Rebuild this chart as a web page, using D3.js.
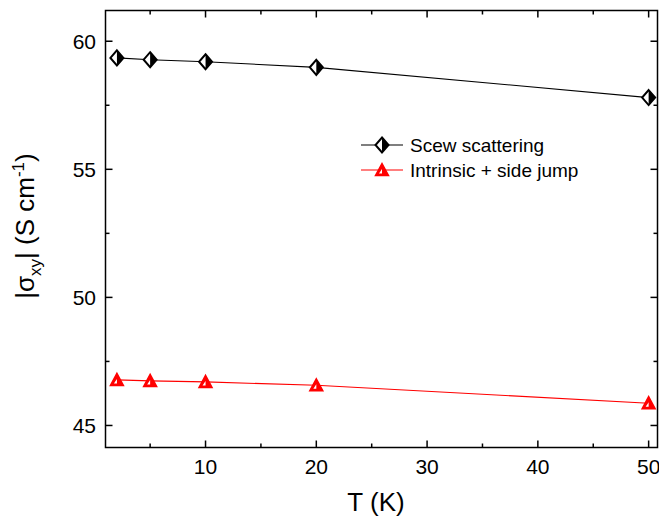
<!DOCTYPE html>
<html><head><meta charset="utf-8">
<script src="https://cdn.jsdelivr.net/npm/d3@7"></script>
<style>body{margin:0;background:#fff}svg{display:block;font-family:"Liberation Sans",Arial,sans-serif}</style>
</head><body>
<svg id="c" width="659" height="523"></svg>
<script>
const temps = [2, 5, 10, 20, 50];
const skew = [59.35, 59.28, 59.2, 58.98, 57.8];
const intrinsic = [46.78, 46.74, 46.7, 46.57, 45.87];
const xTicks = [10, 20, 30, 40, 50];
const yTicks = [45, 50, 55, 60];
const seriesNames = ["Scew scattering", "Intrinsic + side jump"];

const svg = d3.select("#c");
const L = 105.5, R = 657.5, T = 10.5, B = 447.5;
const x = d3.scaleLinear().domain([0.97, 50.8]).range([L, R]);
const y = d3.scaleLinear().domain([44.14, 61.2]).range([B, T]);

const g = svg.append("g");
g.append("rect").attr("x", L).attr("y", T).attr("width", R - L).attr("height", B - T)
  .attr("fill", "none").attr("stroke", "#000").attr("stroke-width", 1.5);

const xMinor = d3.range(5, 51, 5);
const yMinor = d3.range(45, 61.1, 2.5);
xMinor.forEach(v => {
  const len = (v % 10 === 0) ? 7 : 4;
  g.append("line").attr("x1", x(v)).attr("x2", x(v)).attr("y1", B).attr("y2", B - len).attr("stroke", "#000").attr("stroke-width", 1.5);
  g.append("line").attr("x1", x(v)).attr("x2", x(v)).attr("y1", T).attr("y2", T + len).attr("stroke", "#000").attr("stroke-width", 1.5);
});
yMinor.forEach(v => {
  const len = (v % 5 === 0) ? 7 : 4;
  g.append("line").attr("y1", y(v)).attr("y2", y(v)).attr("x1", L).attr("x2", L + len).attr("stroke", "#000").attr("stroke-width", 1.5);
  g.append("line").attr("y1", y(v)).attr("y2", y(v)).attr("x1", R).attr("x2", R - len).attr("stroke", "#000").attr("stroke-width", 1.5);
});
xTicks.forEach(v => {
  g.append("text").attr("x", x(v)).attr("y", 474).attr("text-anchor", "middle")
    .attr("font-size", 21).text(v);
});
yTicks.forEach(v => {
  g.append("text").attr("x", 96).attr("y", y(v) + 7.5).attr("text-anchor", "end")
    .attr("font-size", 21).text(v);
});
svg.append("text").attr("x", 376).attr("y", 511).attr("text-anchor", "middle").attr("font-size", 26).text("T (K)");
const yl = svg.append("text").attr("transform", "translate(34,226) rotate(-90)").attr("text-anchor", "middle").attr("font-size", 26);
yl.append("tspan").text("|σ");
yl.append("tspan").attr("font-size", 17).attr("dy", 7).text("xy");
yl.append("tspan").attr("dy", -7).text("| (S cm");
yl.append("tspan").attr("font-size", 17).attr("dy", -10).text("-1");
yl.append("tspan").attr("dy", 10).text(")");

const line = d3.line().x((d, i) => x(temps[i])).y(d => y(d));
g.append("path").attr("d", line(skew)).attr("fill", "none").attr("stroke", "#000").attr("stroke-width", 1.1);
g.append("path").attr("d", line(intrinsic)).attr("fill", "none").attr("stroke", "#f00").attr("stroke-width", 1.1);

function diamond(cx, cy) {
  const w = 6.5, h = 7.5;
  const m = svg.append("g").attr("transform", `translate(${cx},${cy})`);
  m.append("path").attr("d", `M0,${-h}L${w},0L0,${h}L${-w},0Z`).attr("fill", "#fff");
  m.append("path").attr("d", `M0,${-h}L${w},0L0,${h}Z`).attr("fill", "#000");
  m.append("path").attr("d", `M0,${-h}L${w},0L0,${h}L${-w},0Z`).attr("fill", "none").attr("stroke", "#000").attr("stroke-width", 2);
}
function tri(cx, cy) {
  const w = 6.5, h = 6.5;
  const m = svg.append("g").attr("transform", `translate(${cx},${cy})`);
  m.append("path").attr("d", `M0,${-h}L${w},${h - 1}L${-w},${h - 1}Z`).attr("fill", "#f00").attr("stroke", "#f00").attr("stroke-width", 1.5);
  m.append("path").attr("d", `M0,-1L0,${h - 3}L-3,${h - 3}Z`).attr("fill", "#fff");
}
skew.forEach((v, i) => diamond(x(temps[i]), y(v)));
intrinsic.forEach((v, i) => tri(x(temps[i]), y(v)));

const lg = [{c: "#000", yy: 145, f: diamond}, {c: "#f00", yy: 170, f: tri}];
lg.forEach((d, i) => {
  svg.append("line").attr("x1", 361).attr("x2", 403).attr("y1", d.yy).attr("y2", d.yy).attr("stroke", d.c).attr("stroke-width", 1.1);
  d.f(382, d.yy);
  svg.append("text").attr("x", 410).attr("y", d.yy + 7).attr("font-size", 19).text(seriesNames[i]);
});
</script>
</body></html>
